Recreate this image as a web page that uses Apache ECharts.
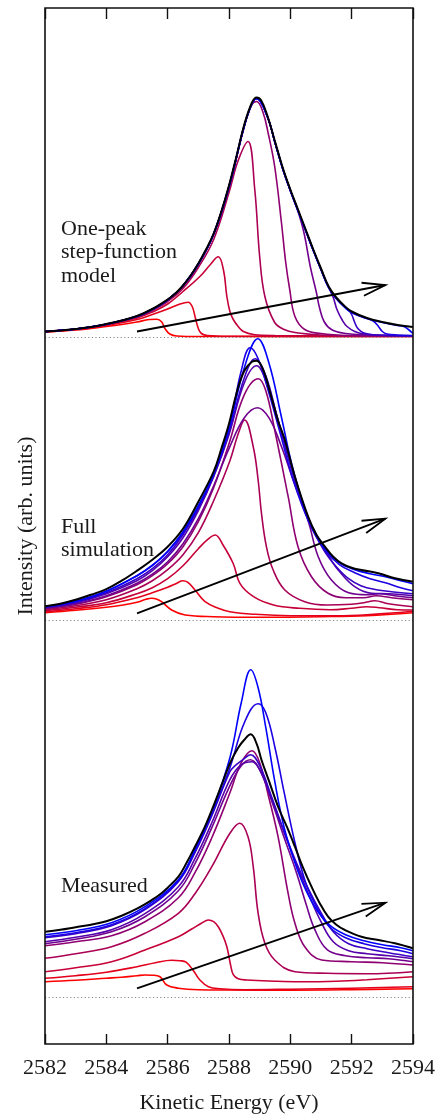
<!DOCTYPE html>
<html>
<head>
<meta charset="utf-8">
<script src="https://cdn.jsdelivr.net/npm/echarts@6/dist/echarts.min.js"></script>
<style>
  html, body { margin: 0; padding: 0; background: #fff; }
  #chart { width: 440px; height: 1117px; }
</style>
</head>
<body>
<div id="chart"></div>
<script>
// Kinetic energy axis (eV)
const energyTicks = [2582, 2584, 2586, 2588, 2590, 2592, 2594];

// ---- One-peak step-function model: envelope + one curve per photon energy (red -> blue)
const modelTotal = [[2582,6],[2582.5,7],[2583,8.5],[2583.5,10.5],[2584,13.5],[2584.5,17],[2585,21.5],[2585.5,28.5],[2586,38],[2586.25,44],[2586.5,52],[2586.75,62],[2587,74],[2587.25,88],[2587.5,104],[2587.75,126],[2588,152],[2588.25,182],[2588.5,213],[2588.75,235],[2588.9,240],[2589.05,237],[2589.25,222],[2589.5,196],[2589.75,170],[2590,148],[2590.25,128],[2590.5,108],[2590.75,88],[2591,69],[2591.25,51],[2591.5,40],[2591.75,32],[2592,26],[2592.5,19.5],[2593,15.5],[2593.5,12.5],[2594,10.5]];
const model1 = [[2582,5.5],[2583,7.5],[2584,11],[2584.5,13],[2585,15.5],[2585.4,18],[2585.65,18.3],[2585.8,15.8],[2585.91,9],[2586.07,3.5],[2586.3,1.5],[2587,1],[2594,1]];
const model2 = [[2582,5.5],[2583,8],[2584,12],[2585,18],[2585.5,23],[2586,28.5],[2586.4,33.5],[2586.67,35.3],[2586.8,31],[2586.9,20],[2587,9],[2587.1,4],[2587.3,2],[2588,1.2],[2594,1]];
const model3 = [[2582,5.8],[2583,8.2],[2584,12.5],[2585,19.5],[2585.5,25.5],[2586,33.5],[2586.5,46],[2587.05,61],[2587.38,72.5],[2587.65,80.7],[2587.82,67.5],[2587.93,41],[2588.03,26],[2588.14,18],[2588.3,11],[2588.47,6],[2588.8,3],[2589.5,2],[2594,1.2]];
const model4 = [[2582,6],[2583,8.4],[2584,13],[2585,20.5],[2585.5,27],[2586,36],[2586.5,49],[2587,70],[2587.5,98],[2588,145],[2588.3,177],[2588.62,196],[2588.84,148],[2589,81],[2589.17,41],[2589.49,15],[2589.8,8],[2590.15,5],[2591,2.5],[2592,1.5],[2594,1.2]];
const model5 = [[2582,6],[2583,8.5],[2584,13.2],[2585,21],[2585.5,28],[2586,37.5],[2586.5,51.5],[2587,73],[2587.5,103],[2588,150],[2588.5,211],[2588.75,233],[2588.9,236],[2589.1,226],[2589.28,204],[2589.49,171],[2589.71,115],[2589.85,75],[2589.98,48],[2590.15,21],[2590.47,8],[2591,4],[2592,2],[2594,1.3]];
const model6 = [[2582,6],[2583,8.5],[2584,13.3],[2585,21.2],[2585.5,28.2],[2586,37.7],[2586.5,51.7],[2587,73.5],[2587.5,103.5],[2588,151],[2588.5,212],[2588.75,234],[2588.9,239],[2589.25,221],[2589.5,195],[2589.75,169],[2590,147],[2590.25,126],[2590.45,104],[2590.65,71],[2590.85,45],[2590.95,30],[2591.1,16],[2591.34,8],[2591.8,4],[2592.5,2.5],[2594,1.5]];
const model7 = [[2582,6],[2583,8.5],[2584,13.3],[2585,21.2],[2585.5,28.2],[2586,37.7],[2586.5,51.7],[2587,73.5],[2587.5,103.5],[2588,151],[2588.5,212],[2588.75,234],[2588.9,239],[2589.25,221],[2589.5,195],[2589.75,169],[2590,147],[2590.25,127],[2590.5,107],[2590.75,87],[2591,68],[2591.25,50],[2591.4,40],[2591.52,28],[2591.7,17],[2591.85,11],[2592.1,6],[2592.4,3.5],[2593,2.2],[2594,1.6]];
const model8 = [[2582,6],[2583,8.5],[2584,13.3],[2585,21.2],[2585.5,28.2],[2586,37.7],[2586.5,51.7],[2587,73.5],[2587.5,103.5],[2588,151],[2588.5,212],[2588.75,234],[2588.9,239],[2589.25,221],[2589.5,195],[2589.75,169],[2590,147],[2590.25,127],[2590.5,107],[2590.75,87],[2591,68],[2591.25,50],[2591.5,39],[2591.75,31],[2591.9,27.5],[2592,23],[2592.1,15],[2592.2,9],[2592.4,4.5],[2592.7,2.8],[2594,1.8]];
const model9 = [[2582,6],[2583,8.5],[2584,13.3],[2585,21.2],[2585.5,28.2],[2586,37.7],[2586.5,51.7],[2587,73.5],[2587.5,103.5],[2588,151],[2588.5,212],[2588.75,234],[2588.9,239],[2589.25,221],[2589.5,195],[2589.75,169],[2590,147],[2590.25,127],[2590.5,107],[2590.75,87],[2591,68],[2591.25,50],[2591.5,39],[2591.75,31],[2592,25],[2592.5,19],[2592.7,16.5],[2592.85,12],[2593,6],[2593.15,3.5],[2593.5,2.5],[2594,2]];
const model10 = [[2582,6],[2583,8.5],[2584,13.3],[2585,21.2],[2585.5,28.2],[2586,37.7],[2586.5,51.7],[2587,73.5],[2587.5,103.5],[2588,151],[2588.5,212],[2588.75,234],[2588.9,239],[2589.25,221],[2589.5,195],[2589.75,169],[2590,147],[2590.25,127],[2590.5,107],[2590.75,87],[2591,68],[2591.25,50],[2591.5,39],[2591.75,31],[2592,25],[2592.5,19],[2593,15],[2593.5,12],[2593.7,11],[2593.85,8],[2594,4]];

// ---- Full simulation
const simTotal = [[2582,14.5],[2582.5,17],[2583,21],[2583.5,26],[2584,31.5],[2584.5,40],[2585,50],[2585.5,61],[2586,74],[2586.5,92],[2587,119],[2587.5,149],[2587.75,172],[2588,197],[2588.25,228],[2588.5,250],[2588.75,259],[2588.9,260],[2589.1,252],[2589.38,224],[2589.6,200],[2589.82,181],[2590.15,144],[2590.58,104],[2590.85,86],[2591.13,74],[2591.4,64],[2591.67,57.4],[2592,53],[2592.32,50.7],[2592.87,47.4],[2593.41,42.4],[2594,39]];
const sim1 = [[2582,8],[2583,10.5],[2584,13.5],[2584.5,15.5],[2585,18.5],[2585.3,21.5],[2585.48,22.4],[2585.65,21.5],[2585.8,19],[2586.13,10.7],[2586.57,5.7],[2587.5,4],[2589,3.5],[2591,4],[2592.5,5],[2594,8]];
const sim2 = [[2582,9],[2583,12],[2584,16],[2585,23],[2585.5,28],[2586,33.5],[2586.3,37.5],[2586.49,40],[2586.65,38.5],[2586.89,30.7],[2587.22,19],[2587.65,12.4],[2588.03,9],[2588.8,6.5],[2590,5],[2591.5,5],[2592.5,6],[2594,9.5]];
const sim3 = [[2582,10],[2583,13.5],[2584,18],[2585,27],[2585.5,33],[2586,42],[2586.5,55],[2587,72],[2587.3,81],[2587.55,85.7],[2587.8,76],[2588.14,57],[2588.36,37],[2588.8,24],[2589.45,15.7],[2590.3,12.4],[2591.3,11],[2592,12.5],[2592.5,14],[2592.9,13],[2593.5,11],[2594,10.7]];
const sim4 = [[2582,11],[2583,15],[2584,21],[2585,32],[2585.5,40],[2586,51],[2586.5,66],[2587,88],[2587.5,120],[2588.03,160],[2588.3,187],[2588.51,200.7],[2588.79,174],[2588.95,140.7],[2589.06,107],[2589.22,74],[2589.44,50.7],[2589.82,30.7],[2590.47,19],[2591.2,15.7],[2592,16.5],[2592.4,18],[2592.75,20],[2593.2,17],[2594,14]];
const sim5 = [[2582,12],[2583,16.5],[2584,24],[2585,36],[2585.5,45],[2586,57],[2586.5,74],[2587,99],[2587.5,133],[2588,177],[2588.5,226],[2588.96,242],[2589.2,230],[2589.49,190.7],[2589.93,124],[2590.25,74],[2590.69,44],[2591.23,27.4],[2591.8,23],[2592.4,23],[2592.8,25],[2593.3,23],[2594,21]];
const sim6 = [[2582,12.5],[2583,17],[2584,25],[2585,37.5],[2585.5,46.5],[2586,59],[2586.5,77],[2587,102],[2587.5,135],[2588,172],[2588.5,203],[2588.93,213],[2589.3,203],[2589.7,175],[2590.1,140],[2590.58,100],[2590.91,64],[2591.34,40.7],[2591.9,28],[2592.5,26],[2592.9,27],[2593.4,25],[2594,23]];
const sim7 = [[2582,13],[2583,18],[2584,27],[2585,40],[2585.5,50],[2586,64],[2586.5,83],[2587,110],[2587.5,144],[2588,186],[2588.5,238],[2588.9,255],[2589.3,230],[2589.7,190],[2590.1,146],[2590.6,100],[2591.02,76],[2591.3,62],[2591.56,50.7],[2592.1,34],[2592.65,27.4],[2593.2,27],[2594,25]];
const sim8 = [[2582,13.5],[2583,18.5],[2584,28],[2585,42],[2585.5,52],[2586,66],[2586.5,86],[2587,112],[2587.5,145],[2588,188],[2588.5,243],[2588.85,262],[2589.2,245],[2589.6,200],[2590.1,145],[2590.6,100],[2591.1,70],[2591.5,54],[2591.9,42],[2592.3,35],[2592.8,31],[2593.3,29],[2594,27]];
const sim9 = [[2582,14],[2583,19.5],[2584,29.5],[2585,45],[2585.5,55],[2586,69],[2586.5,88],[2587,114],[2587.5,146],[2588,192],[2588.4,250],[2588.69,273],[2588.95,262],[2589.3,228],[2589.7,184],[2590.1,140],[2590.6,99],[2591.1,72],[2591.6,56],[2592.1,48],[2592.6,42],[2593.1,38],[2593.6,33],[2594,30]];
const sim10 = [[2582,14],[2583,19.5],[2584,29.5],[2585,45],[2585.5,55.5],[2586,69.5],[2586.5,89],[2587,115],[2587.5,147],[2588,192],[2588.5,253],[2588.94,282],[2589.3,258],[2589.7,205],[2590.1,150],[2590.6,102],[2591.1,74],[2591.6,58],[2592.1,51],[2592.6,47],[2593.1,44],[2593.6,40],[2594,37]];

// ---- Measured
const measTotal = [[2582,66],[2582.5,68],[2583,70.5],[2583.5,73],[2584,76.5],[2584.5,82],[2585,89],[2585.5,98],[2585.8,104.4],[2586,110],[2586.35,121],[2586.6,134],[2586.89,151],[2587.2,170],[2587.44,187.7],[2587.75,212],[2588.03,234.4],[2588.3,250],[2588.5,258],[2588.71,263.4],[2588.9,254],[2589.06,237.7],[2589.3,217],[2589.6,191],[2589.9,170],[2590.15,151],[2590.4,131],[2590.69,111],[2590.95,95],[2591.23,81],[2591.5,73],[2591.78,67.7],[2592.32,61],[2592.87,57.7],[2593.41,54.4],[2594,49.4]];
const meas1 = [[2582,16],[2583,17.5],[2584,19.5],[2584.5,20.5],[2585,22],[2585.26,22.7],[2585.5,22.5],[2585.75,21],[2585.97,12.7],[2586.35,9.5],[2587,8],[2588,7.7],[2590,7.5],[2592,8],[2594,9]];
const meas2 = [[2582,19.4],[2583,22],[2584,25.5],[2585,31],[2585.6,35],[2586.13,37.5],[2586.4,37],[2586.6,35.5],[2586.84,27],[2587.05,17.7],[2587.33,11],[2587.7,9],[2588.5,8],[2590,8.5],[2592,9.5],[2594,11]];
const meas3 = [[2582,26],[2583,30],[2584.17,36],[2585.26,47.7],[2586.35,61],[2586.8,69],[2587.1,74.4],[2587.33,77.7],[2587.5,76],[2587.65,71],[2587.8,62],[2587.93,51],[2588.05,33],[2588.14,23],[2588.3,19],[2588.58,17.7],[2589.5,16.5],[2590.3,16],[2591.5,16.5],[2592.5,18],[2594,21]];
const meas4 = [[2582,39.4],[2583,44],[2584.17,51],[2585.26,64.4],[2586.35,84.4],[2586.89,104],[2587.44,131],[2588.03,164.4],[2588.35,174.4],[2588.62,161],[2588.79,131],[2588.95,84.4],[2589.17,54.4],[2589.49,37.7],[2590.15,26],[2591.2,24.4],[2592.5,24],[2594,26]];
const meas5 = [[2582,52],[2583,56],[2584.17,62],[2585.26,76],[2586.35,100],[2586.89,125],[2587.44,160],[2588.03,205],[2588.4,235],[2588.75,247],[2589,235],[2589.3,200],[2589.6,161],[2589.93,104],[2590.15,74.4],[2590.47,51],[2591.02,37.7],[2592,36],[2593,35],[2594,32.7]];
const meas6 = [[2582,54],[2583,58.5],[2584.17,66],[2585.26,81],[2586.35,107],[2586.89,134],[2587.44,170],[2588.03,212],[2588.4,232],[2588.7,238],[2589,228],[2589.4,196],[2589.8,160],[2590.2,125],[2590.5,95],[2590.8,68],[2591.2,48],[2591.8,42],[2592.5,40],[2593.2,39],[2594,36]];
const meas7 = [[2582,56],[2583,60.5],[2584.17,68],[2585.26,84],[2586.35,111],[2586.89,139],[2587.44,175],[2588.03,218],[2588.4,233],[2588.75,236],[2589,228],[2589.4,198],[2589.8,165],[2590.2,133],[2590.6,103],[2591,76],[2591.4,56],[2591.9,47],[2592.5,44],[2593.2,42],[2594,39]];
const meas8 = [[2582,60],[2583,64],[2584.17,72],[2585.26,88],[2586.35,116],[2586.89,145],[2587.44,182],[2588.03,226],[2588.2,232],[2588.45,238],[2588.7,243],[2589,232],[2589.4,200],[2589.8,166],[2590.2,135],[2590.6,108],[2591,85],[2591.4,66],[2591.9,54],[2592.5,49],[2593.2,45],[2594,41]];
const meas9 = [[2582,61],[2583,65],[2584.17,73],[2585.26,89],[2586.35,117],[2586.89,147],[2587.44,184],[2588.03,230],[2588.5,275],[2588.95,294],[2589.2,285],[2589.5,250],[2589.8,205],[2590.15,155],[2590.5,115],[2590.9,88],[2591.3,70],[2591.8,60],[2592.4,54],[2593,50],[2593.6,47],[2594,44]];
const meas10 = [[2582,63],[2583,67],[2584.17,75],[2585.26,91],[2586.35,118],[2586.89,148],[2587.44,186],[2588.03,240],[2588.4,295],[2588.71,328],[2588.95,310],[2589.2,270],[2589.5,215],[2589.8,170],[2590.15,135],[2590.5,108],[2590.9,86],[2591.3,72],[2591.8,63],[2592.4,57],[2593,53],[2593.6,50],[2594,47]];

// Arrow showing increasing photon energy: [E0, I0, E1, I1] per panel
const arrowModel = [2585.0, 6, 2593.1, 52.5];
const arrowSim = [2585.0, 7.4, 2593.1, 102];
const arrowMeas = [2585.0, 9.4, 2593.1, 95];

const panelTitles = ['One-peak\nstep-function\nmodel', 'Full\nsimulation', 'Measured'];

// ---------------------------------------------------------------------------
const SERIF = '"Liberation Serif", "Times New Roman", serif';
const FRAME = { left: 45, top: 8, width: 368, height: 1036 };
const panels = [
  { top: 8, height: 329.5, total: modelTotal, curves: [model1, model2, model3, model4, model5, model6, model7, model8, model9, model10], arrow: arrowModel },
  { top: 337.5, height: 283.2, total: simTotal, curves: [sim1, sim2, sim3, sim4, sim5, sim6, sim7, sim8, sim9, sim10], arrow: arrowSim },
  { top: 620.7, height: 377, total: measTotal, curves: [meas1, meas2, meas3, meas4, meas5, meas6, meas7, meas8, meas9, meas10], arrow: arrowMeas }
];
const titleTops = [217, 515, 874];
const SMOOTH = 0.4;

function rampColor(i, n) {
  const t = i / (n - 1);
  return 'rgb(' + Math.round(255 * (1 - t)) + ',0,' + Math.round(255 * t) + ')';
}

const grids = [{ left: FRAME.left, top: FRAME.top, width: FRAME.width, height: FRAME.height, outerBoundsMode: 'none',
  show: true, borderColor: '#111', borderWidth: 1.6, backgroundColor: 'transparent', z: 10 }];
const xAxes = [
  { gridIndex: 0, type: 'value', min: energyTicks[0], max: energyTicks[energyTicks.length - 1], interval: 2, position: 'bottom',
    axisLine: { show: false }, splitLine: { show: false },
    axisTick: { show: true, inside: true, length: 10, lineStyle: { color: '#111', width: 1.4 } },
    axisLabel: { show: true, margin: 13, fontFamily: SERIF, fontSize: 22, color: '#1a1a1a',
      showMinLabel: true, showMaxLabel: true, formatter: v => String(v) },
    name: 'Kinetic Energy (eV)', nameLocation: 'middle', nameGap: 48,
    nameTextStyle: { fontFamily: SERIF, fontSize: 22, color: '#1a1a1a' } },
  { gridIndex: 0, type: 'value', min: energyTicks[0], max: energyTicks[energyTicks.length - 1], interval: 2, position: 'top',
    axisLine: { show: false }, splitLine: { show: false }, axisLabel: { show: false },
    axisTick: { show: true, inside: true, length: 11, lineStyle: { color: '#111', width: 1.4 } } }
];
const yAxes = [
  { gridIndex: 0, type: 'value', min: 0, max: 1, axisLine: { show: false }, axisTick: { show: false },
    axisLabel: { show: false }, splitLine: { show: false },
    name: 'Intensity (arb. units)', nameLocation: 'middle', nameGap: 8, nameRotate: 90,
    nameTextStyle: { fontFamily: SERIF, fontSize: 22, color: '#1a1a1a' } }
];
const series = [];

panels.forEach((p, k) => {
  const gi = k + 1;
  grids.push({ left: FRAME.left, top: p.top, width: FRAME.width, height: p.height, outerBoundsMode: 'none', show: false });
  const xi = xAxes.length;
  xAxes.push({ gridIndex: gi, type: 'value', min: 2582, max: 2594, show: false });
  const yi = yAxes.length;
  yAxes.push({ gridIndex: gi, type: 'value', min: 0, max: p.height, show: false });
  p.curves.forEach((c, i) => {
    series.push({ type: 'line', xAxisIndex: xi, yAxisIndex: yi, data: c, showSymbol: false,
      smooth: SMOOTH, clip: false, silent: true,
      lineStyle: { color: rampColor(i, p.curves.length), width: 1.6 }, z: 2 });
  });
  series.push({ type: 'line', xAxisIndex: xi, yAxisIndex: yi, data: p.total, showSymbol: false,
    smooth: SMOOTH, clip: false, silent: true,
    lineStyle: { color: '#000', width: 2 }, z: 3,
    markLine: { silent: true, symbol: 'none', label: { show: false },
      lineStyle: { color: '#888', type: [1.2, 2.4], width: 1 }, data: [{ yAxis: 0 }] } });
  series.push({ type: 'custom', xAxisIndex: xi, yAxisIndex: yi, data: [p.arrow], z: 4, silent: true,
    encode: { x: [0, 2], y: [1, 3] }, clip: false,
    renderItem: function (params, api) {
      const a = api.coord([api.value(0), api.value(1)]);
      const b = api.coord([api.value(2), api.value(3)]);
      const ang = Math.atan2(b[1] - a[1], b[0] - a[0]);
      const L = 24, spread = 16 * Math.PI / 180;
      const w1 = [b[0] - L * Math.cos(ang - spread), b[1] - L * Math.sin(ang - spread)];
      const w2 = [b[0] - L * Math.cos(ang + spread), b[1] - L * Math.sin(ang + spread)];
      return { type: 'group', children: [
        { type: 'line', shape: { x1: a[0], y1: a[1], x2: b[0], y2: b[1] }, style: { stroke: '#000', lineWidth: 1.8 } },
        { type: 'polyline', shape: { points: [w1, b, w2] }, style: { stroke: '#000', lineWidth: 1.8, fill: null } }
      ] };
    } });
});

const chart = echarts.init(document.getElementById('chart'), null, { renderer: 'canvas' });
chart.setOption({
  animation: false,
  backgroundColor: '#fff',
  grid: grids,
  xAxis: xAxes,
  yAxis: yAxes,
  series: series,
  graphic: panelTitles.map((t, k) => ({
    type: 'text', left: 61, top: titleTops[k], z: 20,
    style: { text: t, font: '22px ' + SERIF, fill: '#1a1a1a', lineHeight: 23.5 }
  }))
});
</script>
</body>
</html>
